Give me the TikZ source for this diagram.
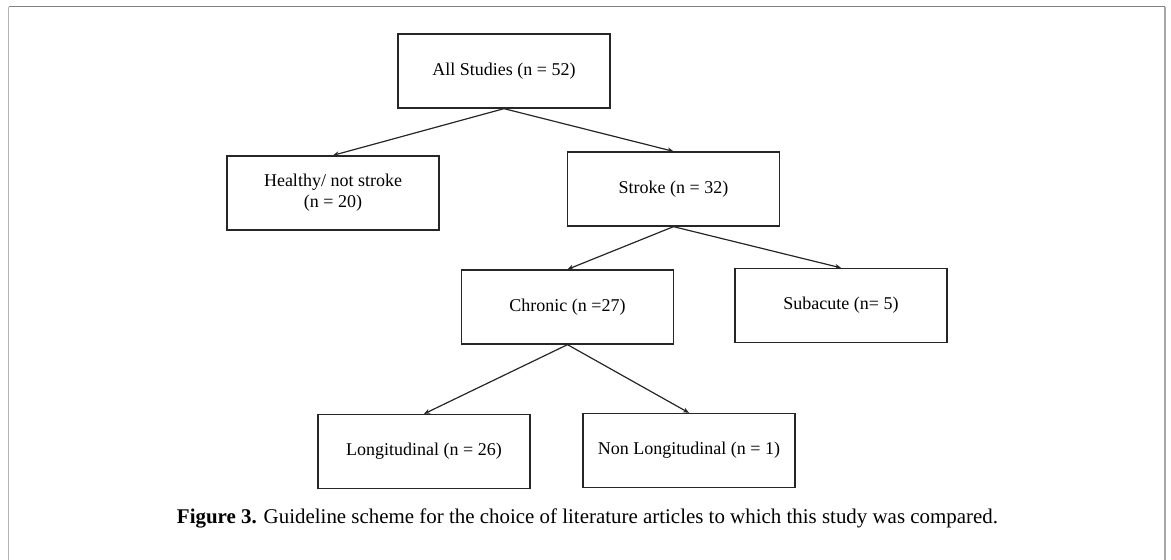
\documentclass[tikz,border=0pt]{standalone}
\usepackage{fontspec}
\setmainfont{Liberation Serif}
\usetikzlibrary{arrows.meta}
\tikzset{
  stepbox/.style={draw=black!85, line width=1.3pt, minimum width=212pt, minimum height=74pt,
    inner sep=0pt, align=center, font=\fontsize{18}{21}\selectfont},
  link/.style={draw=black!85, line width=1.2pt, -{Stealth[length=6pt,width=5pt]}},
  frameline/.style={line width=1.4pt}
}
\begin{document}
\begin{tikzpicture}[x=1pt,y=-1pt]
\useasboundingbox (0,0) rectangle (1171,560);
% frame
\coordinate (ftl) at (8.5,6.5);
\coordinate (ftr) at (1165,6.5);
\coordinate (fbl) at (8.5,560);
\coordinate (fbr) at (1165,560);
\draw[frameline, draw=black!30] (ftl) -- (fbl);
\draw[frameline, draw=black!35] (ftr) -- (fbr);
\draw[frameline, draw=black!50] (ftl) -- (ftr);
% boxes
\node[stepbox] (all) at (504,71) {All Studies (n = 52)};
\node[stepbox] (healthy) at (333,193) {Healthy/ not stroke\\(n = 20)};
\node[stepbox] (stroke) at (673.5,189) {Stroke (n = 32)};
\node[stepbox] (chronic) at (567.5,307) {Chronic (n =27)};
\node[stepbox] (subacute) at (841,305.5) {Subacute (n= 5)};
\node[stepbox] (long) at (424,451.5) {Longitudinal (n = 26)};
\node[stepbox] (nonlong) at (689,450.5) {Non Longitudinal (n = 1)};
% connectors
\draw[link] (all.south) -- (healthy.north);
\draw[link] (all.south) -- (stroke.north);
\draw[link] (stroke.south) -- (chronic.north);
\draw[link] (stroke.south) -- (subacute.north);
\draw[link] (chronic.south) -- (long.north);
\draw[link] (chronic.south) -- (nonlong.north);
% caption
\node[inner sep=0pt, anchor=base] (caption) at (587.5,523)
  {\resizebox{821pt}{!}{\textbf{Figure 3.} Guideline scheme for the choice of literature articles to which this study was compared.}};
\end{tikzpicture}
\end{document}
